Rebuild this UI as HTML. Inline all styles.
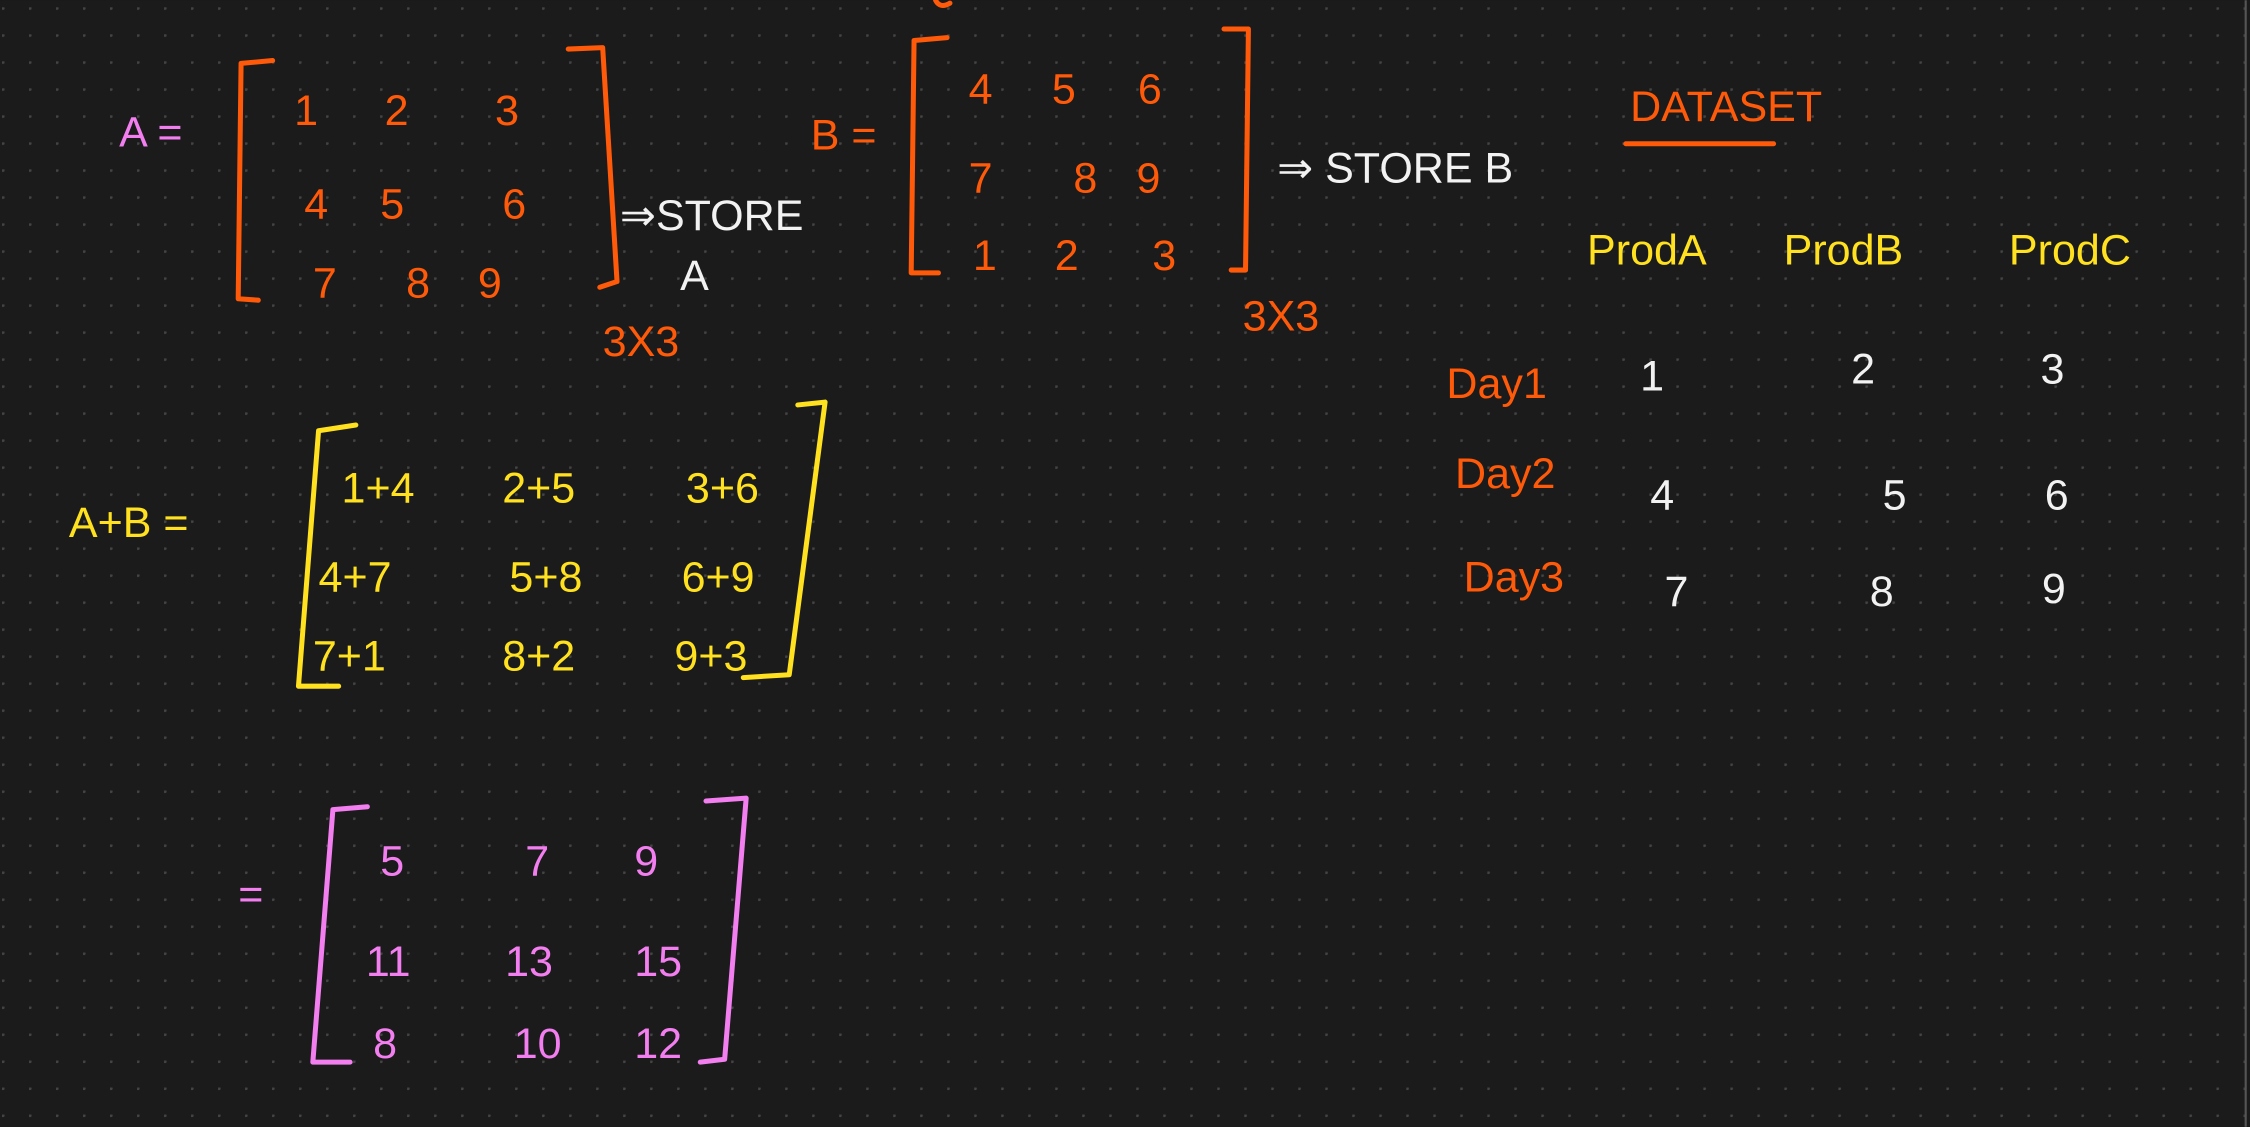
<!DOCTYPE html>
<html><head><meta charset="utf-8"><style>
html,body{margin:0;padding:0;background:#1b1b1b;width:2250px;height:1127px;overflow:hidden}
svg{display:block}
text{font-family:"Liberation Sans",sans-serif;font-size:30px}
.o{fill:#ff5a0a}.p{fill:#f27ef0}.y{fill:#ffe11f}.w{fill:#f2f2f2}
.bo{stroke:#ff5a0a}.bp{stroke:#f27ef0}.by{stroke:#ffe11f}
path{fill:none;stroke-width:3.5;stroke-linecap:round;stroke-linejoin:round}
</style></head><body>
<svg width="2250" height="1127" viewBox="0 0 1568 785">
<defs><pattern id="dots" x="1.4" y="4.9" width="18.82" height="18.82" patternUnits="userSpaceOnUse"><circle cx="0.7" cy="0.7" r="1.1" fill="#444"/></pattern></defs>
<rect width="1568" height="785" fill="#1b1b1b"/>
<rect width="1568" height="785" fill="url(#dots)"/>
<line x1="1565" y1="0" x2="1565" y2="785" stroke="#555" stroke-width="1.5"/>
<path class="bo" d="M652 0 Q655 6 662 2"/>

<g>
<text class="p" x="83" y="102" font-size="36">A =</text>
<path class="bo" d="M190 42 L168 44 L166 208 L180 209"/>
<path class="bo" d="M396 34 L420 33 L430 196 L418 200"/>
<text class="o" x="205" y="87">1</text><text class="o" x="268" y="87">2</text><text class="o" x="345" y="87">3</text>
<text class="o" x="212" y="152">4</text><text class="o" x="265" y="152">5</text><text class="o" x="350" y="152">6</text>
<text class="o" x="218" y="207">7</text><text class="o" x="283" y="207">8</text><text class="o" x="333" y="207">9</text>
<text class="w" x="432" y="160" font-size="23">⇒STORE</text>
<text class="w" x="474" y="202" font-size="22">A</text>
<text class="o" x="420" y="248" font-size="26">3X3</text>
</g>

<g>
<text class="o" x="565" y="104" font-size="36">B =</text>
<path class="bo" d="M660 26 L637 28 L635 190 L654 190"/>
<path class="bo" d="M853 20 L870 20 L868 188 L858 188"/>
<text class="o" x="675" y="72">4</text><text class="o" x="733" y="72">5</text><text class="o" x="793" y="72">6</text>
<text class="o" x="675" y="134">7</text><text class="o" x="748" y="134">8</text><text class="o" x="792" y="134">9</text>
<text class="o" x="678" y="188">1</text><text class="o" x="735" y="188">2</text><text class="o" x="803" y="188">3</text>
<text class="w" x="890" y="127" font-size="25">⇒ STORE B</text>
<text class="o" x="866" y="230" font-size="26">3X3</text>
</g>

<g>
<text class="o" x="1136" y="84" font-size="26">DATASET</text>
<line x1="1133" y1="100" x2="1236" y2="100" stroke="#ff5a0a" stroke-width="3.5" stroke-linecap="round"/>
<text class="y" x="1106" y="184" font-size="27">ProdA</text>
<text class="y" x="1243" y="184" font-size="27">ProdB</text>
<text class="y" x="1400" y="184" font-size="27">ProdC</text>
<text class="o" x="1008" y="277" font-size="27">Day1</text>
<text class="o" x="1014" y="340" font-size="27">Day2</text>
<text class="o" x="1020" y="412" font-size="27">Day3</text>
<text class="w" x="1143" y="272">1</text><text class="w" x="1290" y="267">2</text><text class="w" x="1422" y="267">3</text>
<text class="w" x="1150" y="355">4</text><text class="w" x="1312" y="355">5</text><text class="w" x="1425" y="355">6</text>
<text class="w" x="1160" y="422">7</text><text class="w" x="1303" y="422">8</text><text class="w" x="1423" y="420">9</text>
</g>

<g>
<text class="y" x="48" y="374" font-size="32">A+B =</text>
<path class="by" d="M248 296 L222 300 L208 478 L236 478"/>
<path class="by" d="M556 282 L575 280 L550 470 L518 472"/>
<text class="y" x="238" y="350">1+4</text><text class="y" x="350" y="350">2+5</text><text class="y" x="478" y="350">3+6</text>
<text class="y" x="222" y="412">4+7</text><text class="y" x="355" y="412">5+8</text><text class="y" x="475" y="412">6+9</text>
<text class="y" x="218" y="467">7+1</text><text class="y" x="350" y="467">8+2</text><text class="y" x="470" y="467">9+3</text>
</g>

<g>
<text class="p" x="166" y="633" font-size="32">=</text>
<path class="bp" d="M256 562 L232 564 L218 740 L244 740"/>
<path class="bp" d="M492 558 L520 556 L505 738 L488 740"/>
<text class="p" x="265" y="610">5</text><text class="p" x="366" y="610">7</text><text class="p" x="442" y="610">9</text>
<text class="p" x="255" y="680">11</text><text class="p" x="352" y="680">13</text><text class="p" x="442" y="680">15</text>
<text class="p" x="260" y="737">8</text><text class="p" x="358" y="737">10</text><text class="p" x="442" y="737">12</text>
</g>
</svg>
</body></html>
